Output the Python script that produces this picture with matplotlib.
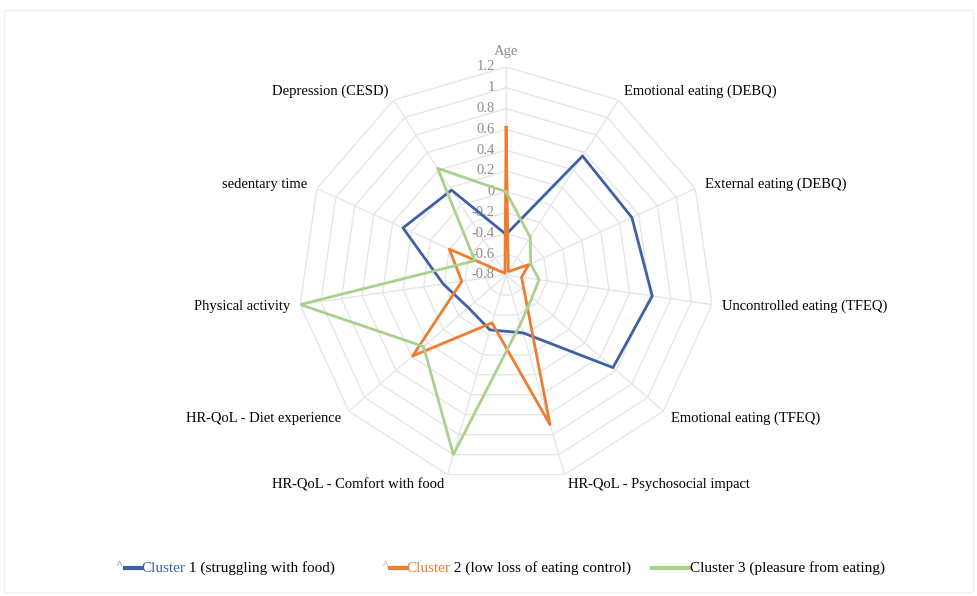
import numpy as np
import matplotlib
matplotlib.use("Agg")
import matplotlib.pyplot as plt
from matplotlib.lines import Line2D
from matplotlib.patches import Rectangle
from matplotlib.transforms import offset_copy

plt.rcParams['font.family'] = ['Liberation Serif', 'DejaVu Serif']

categories = ["Age", "Emotional eating (DEBQ)", "External eating (DEBQ)",
              "Uncontrolled eating (TFEQ)", "Emotional eating (TFEQ)",
              "HR-QoL - Psychosocial impact", "HR-QoL - Comfort with food",
              "HR-QoL - Diet experience", "Physical activity",
              "sedentary time", "Depression (CESD)"]

cluster1 = [-0.41, 0.56, 0.53, 0.62, 0.56, -0.22, -0.25, -0.32, -0.19, 0.29, 0.17]
cluster2 = [0.62, -0.76, -0.56, -0.65, -0.57, 0.70, -0.32, 0.39, -0.37, -0.20, -0.78]
cluster3 = [0.0, -0.37, -0.54, -0.48, -0.47, -0.31, 1.00, 0.25, 1.20, -0.47, 0.42]

series_names = ["Cluster 1 (struggling with food)",
                "Cluster 2 (low loss of eating control)",
                "Cluster 3 (pleasure from eating)"]
colors = ["#3f5fa6", "#ed7d31", "#a9d18e"]

rmin, rmax = -0.8, 1.2
ticks = np.round(np.arange(rmin, rmax + 0.01, 0.2), 1) + 0.0

fig = plt.figure(figsize=(9.77, 5.96), dpi=100)
fig.patches.append(Rectangle((0.004, 0.007), 0.992, 0.976, transform=fig.transFigure,
                             fill=False, edgecolor="#f0f0f0", lw=1))

ax = fig.add_axes([0.3051, 0.1896, 0.4258, 0.698], projection="polar")
ax.set_theta_zero_location("N")
ax.set_theta_direction(-1)
ax.set_ylim(rmin, rmax)
ax.set_xticks([])
ax.set_yticks([])
ax.grid(False)
ax.spines["polar"].set_visible(False)

n = len(categories)
angles = np.linspace(0, 2 * np.pi, n, endpoint=False)
closed = np.append(angles, angles[0])

# polygon grid + spokes
for lev in ticks[1:]:
    ax.plot(closed, [lev] * (n + 1), color="#e6e6e6", lw=1, zorder=0)
for a in angles:
    ax.plot([a, a], [rmin, rmax], color="#e6e6e6", lw=1, zorder=0)

# radial value labels along the Age axis
tr = offset_copy(ax.transData, fig=fig, x=-8, y=0, units="points")
for v in ticks:
    lab = "0" if abs(v) < 1e-9 else f"{v:g}"
    ax.text(0, v, lab, transform=tr, ha="right", va="center",
            fontsize=10.5, color="#8c8c8c", zorder=1)

# category labels
for a, cat in zip(angles, categories):
    if cat == "Age":
        ax.text(a, 1.35, cat, ha="center", va="center", fontsize=10.5, color="#8c8c8c")
        continue
    ha = "left" if np.sin(a) > 0 else "right"
    ax.text(a, 1.3, cat, ha=ha, va="center", fontsize=10.5, color="black")

for vals, c in zip([cluster1, cluster2, cluster3], colors):
    ax.plot(closed, vals + vals[:1], color=c, lw=2.0, zorder=3)

# legend drawn by hand (coloured "Cluster" word as in the original)
W, H = 977, 596
ly = 1 - 568 / H
leg = [(117, 125, 141, "Cluster", " 1 (struggling with food)"),
       (383, 390, 406, "Cluster", " 2 (low loss of eating control)"),
       (None, 652, 690, "", "Cluster 3 (pleasure from eating)")]
for (cx, x0, x1, word, rest), c in zip(leg, colors):
    if cx is not None:
        fig.text(cx / W, ly + 0.004, "^", color=c, fontsize=8, ha="left", va="center")
    fig.add_artist(Line2D([x0 / W, x1 / W], [ly, ly], color=c, lw=3,
                          transform=fig.transFigure))
    t = fig.text(x1 / W, ly, word, color=c, fontsize=11, ha="left", va="center")
    fig.canvas.draw()
    bb = t.get_window_extent()
    xs = bb.x1 / W if word else x1 / W
    fig.text(xs, ly, rest, color="black", fontsize=11, ha="left", va="center")

fig.savefig("out.png", dpi=100)
